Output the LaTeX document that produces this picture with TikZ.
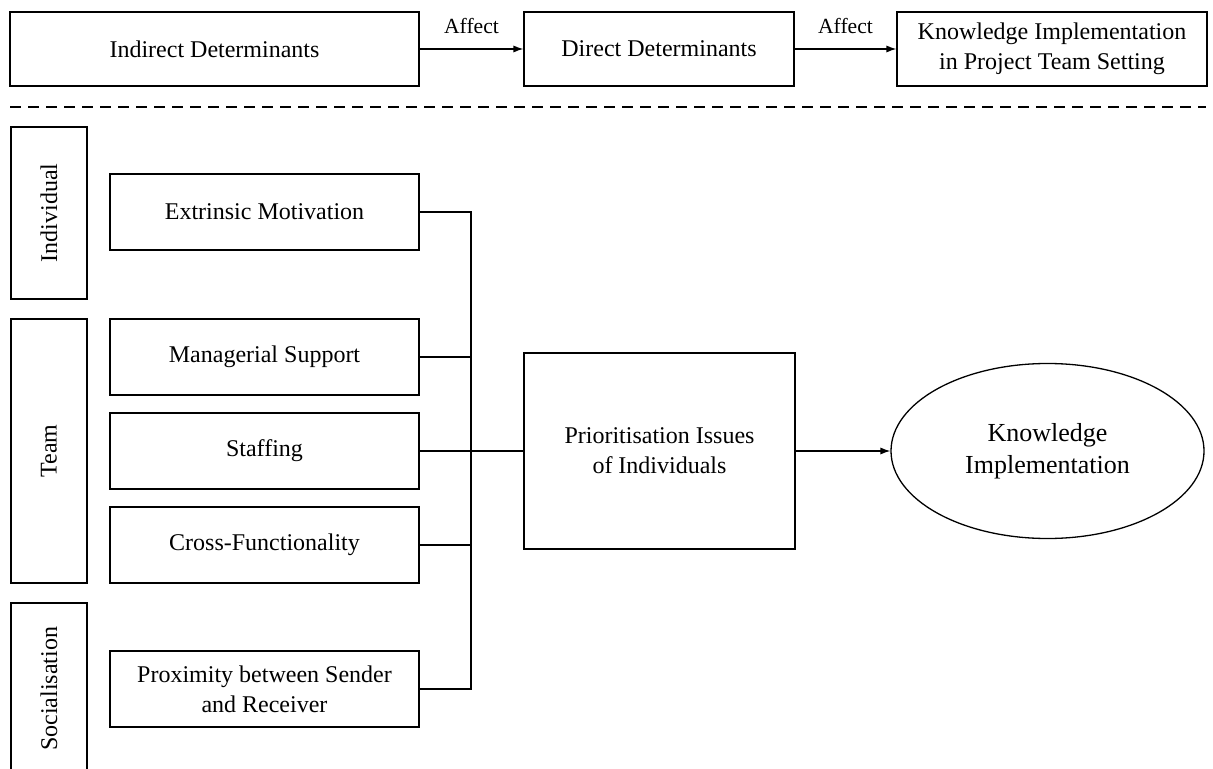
\documentclass[tikz,border=0pt]{standalone}
\usepackage{fontspec}
\setmainfont{Liberation Serif}
\usetikzlibrary{arrows.meta,shapes.geometric}
\begin{document}
\begin{tikzpicture}[x=0.5pt,y=-0.5pt,
  every node/.style={font=\fontsize{12}{15}\selectfont, align=center, inner sep=0pt},
  box/.style={draw, line width=0.65pt, minimum height=37pt},
  catbox/.style={draw, line width=0.65pt, minimum width=38pt},
  factor/.style={draw, line width=0.65pt, minimum width=154.5pt, minimum height=38pt},
  conn/.style={line width=0.65pt},
  arr/.style={line width=0.65pt, -{Latex[length=5pt,width=3.6pt]}},
  lbl/.style={font=\fontsize{10.8}{13}\selectfont, anchor=base, yshift=7.5pt}
]
\clip (0,0) rectangle (1213,769);
\fill[white] (0,0) rectangle (1213,769);

% top row
\node[box, minimum width=204.5pt] (ind) at (214.5,49) {Indirect Determinants};
\node[box, minimum width=135pt] (dir) at (659,49) {Direct Determinants};
\node[box, minimum width=155pt] (kis) at (1052,49) {Knowledge Implementation\\in Project Team Setting};
\draw[arr] (ind.east) -- node[lbl] {Affect} (dir.west);
\draw[arr] (dir.east) -- node[lbl] {Affect} (kis.west);

% dashed separator
\coordinate (dl) at (10,107);
\coordinate (dr) at (1206,107);
\draw[line width=0.65pt, dash pattern=on 5.5pt off 3.5pt] (dl) -- (dr);

% category boxes
\node[catbox, minimum height=86pt] (indiv) at (49,213) {};
\node[rotate=90] at (indiv.center) {Individual};
\node[catbox, minimum height=132pt] (team) at (49,451) {};
\node[rotate=90] at (team.center) {Team};
\node[catbox, minimum height=86pt] (soc) at (49,689) {};
\node[rotate=90] at (soc.center) {Socialisation};

% factor boxes
\node[factor] (em) at (264.5,212) {Extrinsic Motivation};
\node[factor] (ms) at (264.5,357) {Managerial Support};
\node[factor] (st) at (264.5,451) {Staffing};
\node[factor] (cf) at (264.5,545) {Cross-Functionality};
\node[factor] (px) at (264.5,689) {Proximity between Sender\\and Receiver};

% central box and ellipse
\node[draw, line width=0.65pt, minimum width=135.5pt, minimum height=98pt] (prio) at (659.5,451) {Prioritisation Issues\\of Individuals};
\node[draw, ellipse, line width=0.65pt, minimum width=156.5pt, minimum height=87.5pt,
      font=\fontsize{13}{16}\selectfont] (ell) at (1047.5,451) {Knowledge\\Implementation};

% bus connectors
\coordinate (bus) at (471,451);
\draw[conn] (em.east) -| (bus);
\draw[conn] (ms.east) -| (bus);
\draw[conn] (st.east) -- (bus);
\draw[conn] (cf.east) -| (bus);
\draw[conn] (px.east) -| (bus);
\draw[conn] (bus) -- (prio.west);
\draw[arr] (prio.east) -- (ell.west);
\end{tikzpicture}
\end{document}
